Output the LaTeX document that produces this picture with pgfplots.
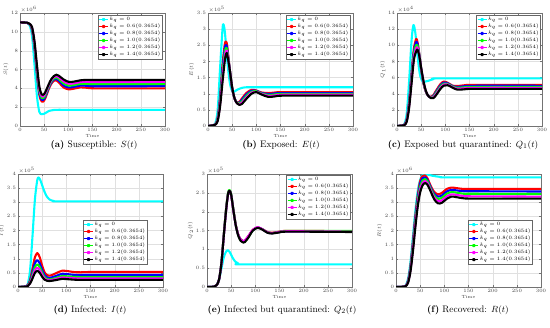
\documentclass[border=0pt]{standalone}
\usepackage{pgfplots}
\pgfplotsset{compat=1.18}
\definecolor{mcyan}{rgb}{0,1,1}
\definecolor{mred}{rgb}{1,0,0}
\definecolor{mblue}{rgb}{0,0,1}
\definecolor{mgreen}{rgb}{0,1,0}
\definecolor{mmag}{rgb}{1,0,1}
\definecolor{mblack}{rgb}{0,0,0}
\pgfplotsset{
 panel/.style={
  scale only axis, width=145bp, height=113bp,
  xmin=0, xmax=300, ymin=0, xtick={0,50,...,300},
  grid=major, grid style={black!12, line width=0.3pt},
  tick label style={font=\fontsize{4.5}{5}\selectfont, text=black!75},
  label style={font=\fontsize{4.5}{5}\selectfont, text=black!75},
  xlabel={Time}, xlabel style={yshift=4bp}, ylabel style={yshift=-4bp},
  tick align=inside, axis line style={black!55, line width=0.4pt},
  every tick/.style={black!55, line width=0.3pt}, major tick length=1.8bp,
  xticklabel style={yshift=1.5bp}, yticklabel style={xshift=1.5bp},
  scaled ticks=false,
  legend cell align=left,
  legend style={font=\fontsize{2.7}{3}\selectfont, draw=black!60, line width=0.3pt, inner sep=0.6pt, row sep=-0.4pt, at={(0.98,0.98)}, anchor=north east, fill=white, nodes={inner sep=1.1pt}},
  legend image code/.code={\draw[#1, line width=0.8pt] (0bp,0bp) -- (9bp,0bp); \fill[#1] (4.5bp,0bp) circle (0.8bp);},
  every axis plot/.append style={line width=2.1pt, line join=round},
 },
}
\newcommand{\leg}{\legend{$k_q=0$,$k_q=0.6(0.3654)$,$k_q=0.8(0.3654)$,$k_q=1.0(0.3654)$,$k_q=1.2(0.3654)$,$k_q=1.4(0.3654)$}}
\begin{document}
\begin{tikzpicture}
\path[use as bounding box] (0bp,0bp) rectangle (550bp,328bp);
% (a) S
\begin{axis}[panel, name=pa, at={(20bp,202bp)}, anchor=south west, ymax=12, ytick={0,2,...,12}, ylabel={$S(t)$}]
\addplot[mcyan, smooth] coordinates {(0,11)(10,11)(15,10.95)(20,10.7)(25,9.5)(30,6.5)(35,3.2)(40,1.5)(45,1.25)(50,1.3)(55,1.45)(60,1.6)(70,1.7)(80,1.72)(100,1.72)(300,1.72)};
\addplot[mred, smooth] coordinates {(0,11)(15,10.95)(20,10.8)(25,10.2)(30,8.3)(35,5.5)(40,3.3)(45,2.6)(50,2.7)(55,3.3)(60,4.0)(65,4.5)(70,4.8)(75,4.85)(80,4.65)(90,4.1)(100,3.9)(110,3.95)(125,4.1)(140,4.05)(160,4.0)(300,4.0)};
\addplot[mblue, smooth] coordinates {(0,11)(15,10.955)(20,10.81)(25,10.28)(30,8.48)(35,5.75)(40,3.53)(45,2.79)(50,2.88)(55,3.45)(60,4.13)(65,4.63)(70,4.93)(75,5.0)(80,4.83)(90,4.31)(100,4.1)(110,4.14)(125,4.29)(140,4.26)(160,4.22)(300,4.23)};
\addplot[mgreen, smooth] coordinates {(0,11)(15,10.96)(20,10.83)(25,10.35)(30,8.65)(35,6.0)(40,3.75)(45,2.98)(50,3.05)(55,3.6)(60,4.25)(65,4.75)(70,5.05)(75,5.15)(80,5.0)(90,4.53)(100,4.3)(110,4.33)(125,4.48)(140,4.48)(160,4.44)(300,4.45)};
\addplot[mmag, smooth] coordinates {(0,11)(15,10.965)(20,10.84)(25,10.43)(30,8.83)(35,6.25)(40,3.98)(45,3.16)(50,3.23)(55,3.75)(60,4.38)(65,4.88)(70,5.18)(75,5.3)(80,5.18)(90,4.74)(100,4.5)(110,4.51)(125,4.66)(140,4.69)(160,4.66)(300,4.68)};
\addplot[mblack, smooth] coordinates {(0,11)(15,10.97)(20,10.85)(25,10.5)(30,9.0)(35,6.5)(40,4.2)(45,3.35)(50,3.4)(55,3.9)(60,4.5)(65,5.0)(70,5.3)(75,5.45)(80,5.35)(90,4.95)(100,4.7)(110,4.7)(125,4.85)(140,4.9)(160,4.88)(300,4.9)};
\leg
\end{axis}
\node[anchor=south west, inner sep=0.5pt, font=\fontsize{4.5}{5}\selectfont, text=black!75] at (pa.north west) {$\times10^{6}$};
% (b) E
\begin{axis}[panel, name=pb, at={(208bp,202bp)}, anchor=south west, ymax=3.5, ytick={0,0.5,...,3.5}, ylabel={$E(t)$}]
\addplot[mcyan, smooth] coordinates {(0,0)(10,0.02)(15,0.08)(20,0.5)(25,1.8)(30,3.0)(32,3.15)(35,2.9)(40,2.0)(45,1.35)(50,1.08)(55,1.07)(60,1.12)(70,1.18)(80,1.2)(100,1.2)(300,1.2)};
\addplot[mred, smooth] coordinates {(0,0)(10,0.02)(15,0.05)(20,0.25)(25,0.9)(30,1.9)(35,2.55)(38,2.6)(40,2.45)(45,1.75)(50,1.15)(55,0.85)(60,0.73)(65,0.75)(70,0.85)(80,1.03)(90,1.12)(100,1.1)(110,1.04)(125,1.02)(140,1.04)(160,1.05)(300,1.05)};
\addplot[mblue, smooth] coordinates {(0,0)(10,0.02)(15,0.048)(20,0.225)(25,0.825)(30,1.76)(35,2.43)(38,2.5)(40,2.36)(45,1.75)(50,1.16)(55,0.85)(60,0.72)(65,0.725)(70,0.81)(80,0.985)(90,1.09)(100,1.09)(110,1.025)(125,0.99)(140,1.01)(160,1.02)(300,1.02)};
\addplot[mgreen, smooth] coordinates {(0,0)(10,0.02)(15,0.045)(20,0.2)(25,0.75)(30,1.63)(35,2.3)(38,2.42)(40,2.3)(45,1.75)(50,1.18)(55,0.85)(60,0.715)(65,0.7)(70,0.765)(80,0.94)(90,1.06)(100,1.075)(110,1.01)(125,0.96)(140,0.98)(160,0.995)(300,0.995)};
\addplot[mmag, smooth] coordinates {(0,0)(10,0.02)(15,0.043)(20,0.175)(25,0.675)(30,1.49)(35,2.18)(38,2.34)(40,2.25)(45,1.75)(50,1.19)(55,0.85)(60,0.708)(65,0.675)(70,0.72)(80,0.895)(90,1.03)(100,1.06)(110,0.995)(125,0.93)(140,0.95)(160,0.968)(300,0.968)};
\addplot[mblack, smooth] coordinates {(0,0)(10,0.02)(15,0.04)(20,0.15)(25,0.6)(30,1.35)(35,2.05)(38,2.25)(40,2.2)(45,1.75)(50,1.2)(55,0.85)(60,0.7)(65,0.65)(70,0.68)(80,0.85)(90,1.0)(100,1.05)(110,0.98)(125,0.9)(140,0.92)(160,0.94)(300,0.94)};
\leg
\end{axis}
\node[anchor=south west, inner sep=0.5pt, font=\fontsize{4.5}{5}\selectfont, text=black!75] at (pb.north west) {$\times10^{5}$};
% (c) Q1
\begin{axis}[panel, name=pc, at={(397bp,202bp)}, anchor=south west, ymax=14, ytick={0,2,...,14}, ylabel={$Q_1(t)$}, legend style={at={(0.99,0.98)}}]
\addplot[mcyan, smooth] coordinates {(0,0)(10,0.05)(15,0.2)(20,1.5)(25,5.5)(30,10.5)(34,12.5)(38,11.5)(42,9)(47,6.5)(52,5.6)(58,5.5)(65,5.6)(75,5.8)(90,5.9)(300,5.9)};
\addplot[mred, smooth] coordinates {(0,0)(10,0.05)(15,0.15)(20,0.8)(25,3.0)(30,6.5)(35,9.6)(40,10.8)(43,10.2)(47,8.5)(50,7.0)(55,5.2)(60,4.2)(65,3.7)(70,3.6)(75,3.8)(80,4.3)(90,5.2)(97,5.5)(105,5.35)(115,5.0)(125,4.95)(140,5.05)(160,5.1)(300,5.1)};
\addplot[mblue, smooth] coordinates {(0,0)(10,0.05)(15,0.14)(20,0.73)(25,2.8)(30,6.18)(35,9.25)(40,10.43)(43,10.0)(47,8.48)(50,7.05)(55,5.28)(60,4.23)(65,3.7)(70,3.56)(75,3.71)(80,4.16)(90,5.05)(97,5.38)(105,5.28)(115,4.94)(125,4.84)(140,4.93)(160,4.98)(300,4.98)};
\addplot[mgreen, smooth] coordinates {(0,0)(10,0.05)(15,0.125)(20,0.65)(25,2.6)(30,5.85)(35,8.9)(40,10.05)(43,9.8)(47,8.45)(50,7.1)(55,5.35)(60,4.25)(65,3.7)(70,3.53)(75,3.63)(80,4.03)(90,4.9)(97,5.25)(105,5.2)(115,4.88)(125,4.73)(140,4.8)(160,4.85)(300,4.85)};
\addplot[mmag, smooth] coordinates {(0,0)(10,0.05)(15,0.11)(20,0.58)(25,2.4)(30,5.53)(35,8.55)(40,9.68)(43,9.6)(47,8.43)(50,7.15)(55,5.43)(60,4.28)(65,3.7)(70,3.49)(75,3.54)(80,3.89)(90,4.75)(97,5.13)(105,5.13)(115,4.81)(125,4.61)(140,4.68)(160,4.73)(300,4.73)};
\addplot[mblack, smooth] coordinates {(0,0)(10,0.05)(15,0.1)(20,0.5)(25,2.2)(30,5.2)(35,8.2)(40,9.3)(43,9.4)(47,8.4)(50,7.2)(55,5.5)(60,4.3)(65,3.7)(70,3.45)(75,3.45)(80,3.75)(90,4.6)(97,5.0)(105,5.05)(115,4.75)(125,4.5)(140,4.55)(160,4.6)(300,4.6)};
\leg
\end{axis}
\node[anchor=south west, inner sep=0.5pt, font=\fontsize{4.5}{5}\selectfont, text=black!75] at (pc.north west) {$\times10^{4}$};
% (d) I
\begin{axis}[panel, name=pd, at={(18bp,41bp)}, anchor=south west, ymax=4, ytick={0,0.5,...,4}, ylabel={$I(t)$}, legend style={at={(0.89,0.59)}}]
\addplot[mcyan, smooth] coordinates {(0,0)(15,0.02)(20,0.1)(25,0.6)(30,1.8)(35,3.1)(40,3.8)(43,3.87)(47,3.75)(52,3.5)(58,3.25)(65,3.1)(75,3.04)(90,3.03)(300,3.03)};
\addplot[mred, smooth] coordinates {(0,0)(15,0.02)(20,0.06)(25,0.25)(30,0.65)(35,1.05)(40,1.2)(45,1.05)(50,0.75)(55,0.52)(60,0.42)(65,0.4)(70,0.42)(80,0.5)(92,0.58)(100,0.57)(115,0.53)(130,0.52)(150,0.53)(300,0.53)};
\addplot[mblue, smooth] coordinates {(0,0)(15,0.02)(20,0.05)(25,0.2)(30,0.52)(35,0.84)(40,0.95)(45,0.83)(50,0.6)(55,0.42)(60,0.34)(65,0.32)(70,0.34)(80,0.4)(92,0.47)(100,0.46)(115,0.43)(130,0.42)(150,0.43)(300,0.43)};
\addplot[mgreen, smooth] coordinates {(0,0)(15,0.015)(20,0.04)(25,0.17)(30,0.43)(35,0.7)(40,0.8)(45,0.7)(50,0.5)(55,0.35)(60,0.28)(65,0.27)(70,0.28)(80,0.33)(92,0.39)(100,0.38)(115,0.36)(130,0.35)(150,0.35)(300,0.35)};
\addplot[mmag, smooth] coordinates {(0,0)(15,0.012)(20,0.035)(25,0.14)(30,0.36)(35,0.6)(40,0.68)(45,0.6)(50,0.43)(55,0.3)(60,0.25)(65,0.24)(70,0.25)(80,0.29)(92,0.34)(100,0.33)(115,0.31)(130,0.3)(150,0.3)(300,0.3)};
\addplot[mblack, smooth] coordinates {(0,0)(15,0.01)(20,0.03)(25,0.12)(30,0.3)(35,0.5)(40,0.57)(45,0.5)(50,0.36)(55,0.26)(60,0.22)(65,0.21)(70,0.22)(80,0.25)(92,0.29)(100,0.28)(115,0.26)(130,0.25)(150,0.25)(300,0.25)};
\leg
\end{axis}
\node[anchor=south west, inner sep=0.5pt, font=\fontsize{4.5}{5}\selectfont, text=black!75] at (pd.north west) {$\times10^{5}$};
% (e) Q2
\begin{axis}[panel, name=pe, at={(207bp,41bp)}, anchor=south west, ymax=3, ytick={0,0.5,...,3}, ylabel={$Q_2(t)$}, legend style={at={(0.99,0.99)}}]
\addplot[mcyan, smooth] coordinates {(0,0)(15,0.01)(20,0.05)(25,0.2)(30,0.5)(35,0.8)(40,0.95)(43,0.98)(47,0.93)(52,0.8)(58,0.68)(65,0.62)(75,0.6)(300,0.6)};
\addplot[mred, smooth] coordinates {(0,0)(15,0.01)(20,0.05)(25,0.2)(30,0.66)(35,1.42)(40,2.12)(44,2.5)(47,2.53)(50,2.43)(55,2.0)(60,1.62)(65,1.38)(70,1.26)(75,1.22)(78,1.23)(85,1.34)(95,1.52)(105,1.58)(115,1.53)(125,1.46)(135,1.44)(150,1.47)(170,1.49)(300,1.48)};
\addplot[mblue, smooth] coordinates {(0,0)(15,0.01)(20,0.05)(25,0.2)(30,0.66)(35,1.41)(40,2.11)(44,2.5)(47,2.54)(50,2.44)(55,2.0)(60,1.61)(65,1.37)(70,1.25)(75,1.21)(78,1.22)(85,1.33)(95,1.51)(105,1.58)(115,1.53)(125,1.45)(135,1.43)(150,1.46)(170,1.48)(300,1.47)};
\addplot[mgreen, smooth] coordinates {(0,0)(15,0.01)(20,0.05)(25,0.2)(30,0.67)(35,1.43)(40,2.14)(44,2.53)(47,2.57)(50,2.47)(55,2.02)(60,1.62)(65,1.36)(70,1.23)(75,1.19)(78,1.2)(85,1.31)(95,1.51)(105,1.58)(115,1.53)(125,1.45)(135,1.43)(150,1.46)(170,1.49)(300,1.49)};
\addplot[mmag, smooth] coordinates {(0,0)(15,0.01)(20,0.05)(25,0.2)(30,0.65)(35,1.4)(40,2.1)(44,2.5)(47,2.55)(50,2.45)(55,2.0)(60,1.61)(65,1.37)(70,1.25)(75,1.21)(78,1.23)(85,1.34)(95,1.52)(105,1.59)(115,1.53)(125,1.45)(135,1.43)(150,1.46)(170,1.48)(300,1.47)};
\addplot[mblack, smooth] coordinates {(0,0)(15,0.01)(20,0.05)(25,0.2)(30,0.65)(35,1.4)(40,2.1)(44,2.5)(47,2.55)(50,2.45)(55,2.0)(60,1.6)(65,1.35)(70,1.22)(75,1.18)(78,1.19)(85,1.3)(95,1.5)(105,1.57)(115,1.52)(125,1.44)(135,1.42)(150,1.45)(170,1.47)(300,1.46)};
\leg
\end{axis}
\node[anchor=south west, inner sep=0.5pt, font=\fontsize{4.5}{5}\selectfont, text=black!75] at (pe.north west) {$\times10^{5}$};
% (f) R
\begin{axis}[panel, name=pf, at={(396bp,41bp)}, anchor=south west, ymax=4, ytick={0,0.5,...,4}, ylabel={$R(t)$}, legend style={at={(0.94,0.59)}}]
\addplot[mcyan, smooth] coordinates {(0,0)(15,0.01)(20,0.05)(25,0.3)(30,0.9)(35,1.8)(40,2.7)(45,3.4)(50,3.8)(55,3.96)(60,4.0)(65,3.98)(75,3.94)(90,3.9)(110,3.88)(300,3.88)};
\addplot[mred, smooth] coordinates {(0,0)(15,0.01)(20,0.04)(25,0.22)(30,0.75)(35,1.6)(40,2.5)(45,3.25)(50,3.75)(55,3.93)(60,3.95)(65,3.85)(70,3.65)(75,3.47)(80,3.35)(87,3.28)(95,3.33)(105,3.47)(115,3.52)(125,3.5)(140,3.47)(160,3.47)(300,3.47)};
\addplot[mblue, smooth] coordinates {(0,0)(15,0.01)(20,0.038)(25,0.2)(30,0.7)(35,1.51)(40,2.4)(45,3.15)(50,3.65)(55,3.85)(60,3.88)(65,3.79)(70,3.6)(75,3.41)(80,3.28)(87,3.2)(95,3.24)(105,3.38)(115,3.44)(125,3.42)(140,3.39)(160,3.39)(300,3.38)};
\addplot[mgreen, smooth] coordinates {(0,0)(15,0.01)(20,0.035)(25,0.185)(30,0.65)(35,1.43)(40,2.3)(45,3.05)(50,3.55)(55,3.77)(60,3.82)(65,3.74)(70,3.55)(75,3.36)(80,3.22)(87,3.12)(95,3.16)(105,3.3)(115,3.36)(125,3.34)(140,3.3)(160,3.3)(300,3.29)};
\addplot[mmag, smooth] coordinates {(0,0)(15,0.01)(20,0.033)(25,0.17)(30,0.6)(35,1.34)(40,2.2)(45,2.95)(50,3.45)(55,3.68)(60,3.75)(65,3.68)(70,3.5)(75,3.3)(80,3.15)(87,3.04)(95,3.07)(105,3.21)(115,3.28)(125,3.26)(140,3.22)(160,3.21)(300,3.2)};
\addplot[mblack, smooth] coordinates {(0,0)(15,0.01)(20,0.03)(25,0.15)(30,0.55)(35,1.25)(40,2.1)(45,2.85)(50,3.35)(55,3.6)(60,3.68)(65,3.62)(70,3.45)(75,3.25)(80,3.08)(87,2.96)(95,2.98)(105,3.12)(115,3.2)(125,3.18)(140,3.14)(160,3.13)(300,3.13)};
\leg
\end{axis}
\node[anchor=south west, inner sep=0.5pt, font=\fontsize{4.5}{5}\selectfont, text=black!75] at (pf.north west) {$\times10^{6}$};
% captions
\begin{scope}[every node/.style={font=\fontsize{9.5}{11}\selectfont, inner sep=0pt}]
\node at (94bp,183bp) {\textbf{(a)} Susceptible: $S(t)$};
\node at (281bp,183bp) {\textbf{(b)} Exposed: $E(t)$};
\node at (463bp,183bp) {\textbf{(c)} Exposed but quarantined: $Q_1(t)$};
\node at (90bp,18bp) {\textbf{(d)} Infected: $I(t)$};
\node at (282bp,18bp) {\textbf{(e)} Infected but quarantined: $Q_2(t)$};
\node at (468bp,18bp) {\textbf{(f)} Recovered: $R(t)$};
\end{scope}
\end{tikzpicture}
\end{document}
